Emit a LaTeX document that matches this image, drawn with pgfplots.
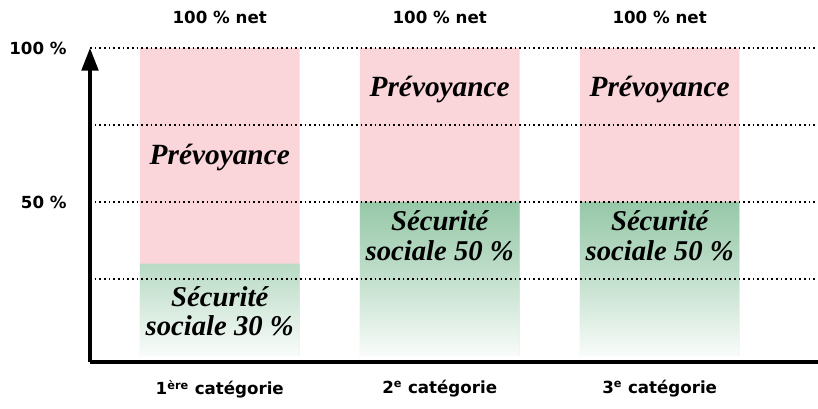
\documentclass[border=0pt]{standalone}
\usepackage{pgfplots}
\pgfplotsset{compat=1.18}
\usepackage{fontspec}
\setmainfont{DejaVu Sans}
\newfontfamily\bserif{Liberation Serif}
\usetikzlibrary{arrows.meta}
\definecolor{pinkbar}{HTML}{FAD5DA}
\definecolor{greentop}{HTML}{96C8A8}
\definecolor{greenbot}{HTML}{F9FCFA}
\begin{document}
\begin{tikzpicture}
\begin{axis}[
  name=ax,
  scale only axis,
  width=546pt, height=235.5pt,
  xmin=-0.59, xmax=2.72,
  ymin=-1.95, ymax=100,
  axis on top,
  axis x line=bottom,
  axis y line=left,
  x axis line style={line width=2.4pt,-},
  y axis line style={line width=2.4pt,-{Triangle[length=17pt,width=12.5pt]}},
  xtick={0,1,2},
  xticklabels={{1\textsuperscript{\fontsize{8.5}{8.5}\selectfont ère} catégorie},{2\textsuperscript{\fontsize{8.5}{8.5}\selectfont e} catégorie},{3\textsuperscript{\fontsize{8.5}{8.5}\selectfont e} catégorie}},
  ytick={25,50,75,100},
  yticklabels={,50 \%,,100 \%},
  major tick length=0pt,
  ymajorgrids,
  grid style={black, line width=1.6pt, dash pattern=on 1.3pt off 2.2pt},
  tick label style={font=\bfseries\fontsize{12.5}{15}\selectfont},
  yticklabel style={xshift=-14pt},
  xticklabel style={yshift=-10pt},
  /pgf/number format/assume math mode=true,
  clip=false,
]
\addplot[ybar, bar width=0.726, bar shift=0pt, draw=none, fill=pinkbar] coordinates {(0,100) (1,100) (2,100)};
\addplot[ybar, bar width=0.726, bar shift=0pt, draw=none, shading=axis, top color=greentop, bottom color=greenbot, middle color=greentop!55!greenbot] coordinates {(0,30) (1,50) (2,50)};
\node[font=\bfseries\fontsize{12.5}{15}\selectfont] at (axis cs:0,100) [yshift=23pt] {100 \% net};
\node[font=\bfseries\fontsize{12.5}{15}\selectfont] at (axis cs:1,100) [yshift=23pt] {100 \% net};
\node[font=\bfseries\fontsize{12.5}{15}\selectfont] at (axis cs:2,100) [yshift=23pt] {100 \% net};
\node[font=\bserif\bfseries\itshape\fontsize{22}{22}\selectfont] at (axis cs:0,64.6) {Prévoyance};
\node[font=\bserif\bfseries\itshape\fontsize{22}{22}\selectfont] at (axis cs:1,86.4) {Prévoyance};
\node[font=\bserif\bfseries\itshape\fontsize{22}{22}\selectfont] at (axis cs:2,86.4) {Prévoyance};
\node[font=\bserif\bfseries\itshape\fontsize{21.5}{22}\selectfont, align=center] at (axis cs:0,14.6) {Sécurité\\sociale 30 \%};
\node[font=\bserif\bfseries\itshape\fontsize{21.5}{22}\selectfont, align=center] at (axis cs:1,39) {Sécurité\\sociale 50 \%};
\node[font=\bserif\bfseries\itshape\fontsize{21.5}{22}\selectfont, align=center] at (axis cs:2,39) {Sécurité\\sociale 50 \%};
\end{axis}
\pgfresetboundingbox
\path (ax.south west) ++(-67.5pt,-34.5pt) coordinate (bl);
\path (ax.south west) ++(546pt,271.5pt) coordinate (tr);
\path[use as bounding box] (bl) rectangle (tr);
\end{tikzpicture}
\end{document}
